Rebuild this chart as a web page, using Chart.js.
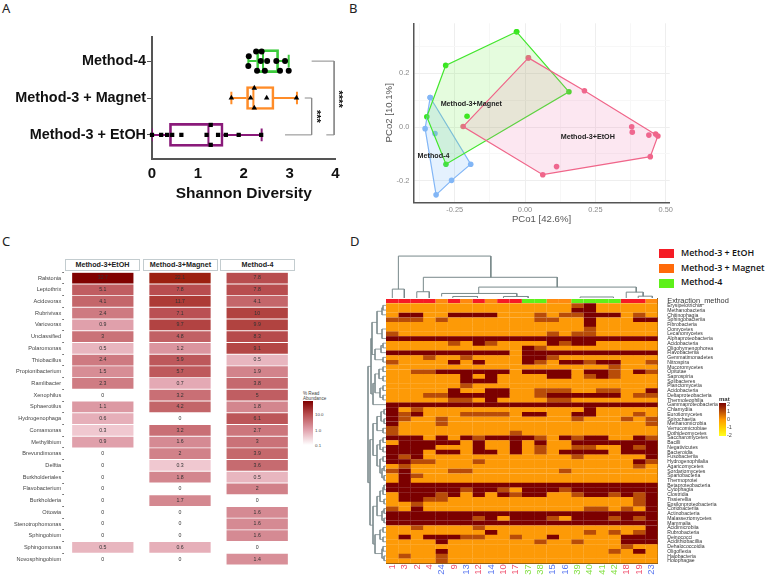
<!DOCTYPE html>
<html>
<head>
<meta charset="utf-8">
<title>Extraction method comparison</title>
<script src="https://cdn.jsdelivr.net/npm/chart.js@4/dist/chart.umd.js"></script>
<style>
  body { margin: 0; background: #fff; width: 768px; height: 577px; position: relative; overflow: hidden; font-family: "Liberation Sans", sans-serif; }
  canvas { position: absolute; }
  .panel { position: absolute; font: 13px "Noto Sans", sans-serif; color: #222; }
  .strip { position: absolute; top: 259px; height: 10px; border: 1px solid #c3cccf; text-align: center; font: bold 7.2px/10px "Liberation Sans", sans-serif; color: #222; box-sizing: content-box; }
  .key { position: absolute; left: 659px; width: 15px; height: 9px; }
  .keytext { position: absolute; left: 681px; font: 600 8.9px/12px "Open Sans", sans-serif; color: #111; white-space: nowrap; }
  .small { position: absolute; color: #444; white-space: nowrap; }
</style>
</head>
<body>
<div class="panel" style="left:2px;top:-1px">A</div>
<div class="panel" style="left:349px;top:-1px">B</div>
<div class="panel" style="left:2px;top:232px">C</div>
<div class="panel" style="left:350px;top:232px">D</div>

<canvas id="boxes" width="346" height="173" style="left:0;top:30px"></canvas>
<canvas id="pcoa" width="296" height="210" style="left:384px;top:15px"></canvas>

<div class="strip" style="left:65px;width:73px">Method-3+EtOH</div>
<div class="strip" style="left:143px;width:73px">Method-3+Magnet</div>
<div class="strip" style="left:220px;width:73px">Method-4</div>
<canvas id="abundance" width="300" height="293" style="left:0;top:272px"></canvas>
<div class="small" style="left:303px;top:391px;font-size:4.6px;line-height:5px">% Read<br>Abundance</div>
<div style="position:absolute;left:303px;top:401px;width:10px;height:44px;background:linear-gradient(#7f0000,#b84d4f 30%,#e0a0ab 65%,#fff)"></div>
<div class="small" style="left:315px;top:412px;font-size:4.4px">10.0</div>
<div class="small" style="left:315px;top:428px;font-size:4.4px">1.0</div>
<div class="small" style="left:315px;top:443px;font-size:4.4px">0.1</div>

<canvas id="treeTop" width="272" height="48" style="left:386px;top:250px"></canvas>
<canvas id="treeLeft" width="20" height="260" style="left:366px;top:303px"></canvas>
<canvas id="heat" width="349" height="282" style="left:386px;top:295px"></canvas>

<div class="key" style="top:249px;background:#f51b25"></div>
<div class="keytext" style="top:247px">Method-3 + EtOH</div>
<div class="key" style="top:264px;background:#ff6a0a"></div>
<div class="keytext" style="top:262px">Method-3 + Magnet</div>
<div class="key" style="top:279px;background:#5ef01a"></div>
<div class="keytext" style="top:276px">Method-4</div>

<div class="small" style="left:719px;top:396px;font-size:6px;font-weight:bold;color:#333">mat</div>
<div style="position:absolute;left:719px;top:403px;width:7px;height:33px;background:linear-gradient(#7b0000,#b84c08 25%,#ff9a00 50%,#ffd000 75%,#ffff20)"></div>
<div class="small" style="left:727px;top:401px;font-size:5.5px">2</div>
<div class="small" style="left:727px;top:408px;font-size:5.5px">1</div>
<div class="small" style="left:727px;top:416px;font-size:5.5px">0</div>
<div class="small" style="left:727px;top:424px;font-size:5.5px">-1</div>
<div class="small" style="left:727px;top:432px;font-size:5.5px">-2</div>

<script>
// panel A, shannon diversity
const boxCategories = ['Method-3 + EtOH', 'Method-3 + Magnet', 'Method-4'];
const boxQ1 = [0.38, 2.06, 2.28];
const boxQ3 = [1.55, 2.66, 2.76];
const boxMedian = [1.23, 2.21, 2.42];
const boxLow = [0, 1.73, 2.10];
const boxHigh = [2.39, 3.16, 2.98];
const etohX = [0, 0.2, 0.33, 0.44, 0.64, 1.19, 1.28, 1.28, 1.44, 1.61, 1.89, 2.38];
const etohSpread = [0, 0, 0, 0, 0, 0, 0.27, -0.27, 0, 0, 0, 0];
const magnetX = [1.73, 2.15, 2.23, 2.23, 2.50, 3.15];
const magnetSpread = [0, 0, 0.27, -0.27, 0, 0];
const method4X = [2.27, 2.39, 2.11, 2.37, 2.51, 2.71, 2.90, 2.10, 2.29, 2.46, 2.79, 2.98];
const method4Spread = [0.26, 0.26, 0.13, 0, 0, 0, 0, -0.13, -0.26, -0.26, -0.26, -0.26];

// panel B, pcoa
const hullMethod4 = [[-0.337, 0.110], [-0.193, -0.138], [-0.261, -0.198], [-0.316, -0.252], [-0.355, -0.006], [-0.337, 0.110]];
const hullMagnet = [[-0.030, 0.354], [0.156, 0.131], [-0.281, -0.138], [-0.349, 0.038], [-0.282, 0.229], [-0.030, 0.354]];
const hullEtoh = [[0.012, 0.257], [0.211, 0.135], [0.472, -0.033], [0.445, -0.110], [0.063, -0.177], [-0.220, 0.002], [0.012, 0.257]];
const innerMethod4 = [[-0.320, -0.024]];
const innerMagnet = [[-0.206, 0.040]];
const innerEtoh = [[0.379, 0.001], [0.381, -0.019], [0.440, -0.030], [0.464, -0.026], [0.112, -0.147]];
const pcoaLabels = ['Method-3+Magnet', 'Method-3+EtOH', 'Method-4'];
const pcoaLabelAt = [[-0.191, 0.086], [0.223, -0.036], [-0.325, -0.108]];
const pcoX = [-0.375, -0.25, -0.125, 0, 0.125, 0.25, 0.375, 0.5];
const pcoY = [-0.2, -0.1, 0, 0.1, 0.2, 0.3];

// panel C, read abundance
const genera = ['Ralstonia', 'Leptothrix', 'Acidovorax', 'Rubrivivax', 'Variovorax', 'Unclassified', 'Polaromonas', 'Thiobacillus', 'Propionibacterium', 'Ramlibacter', 'Xenophilus', 'Sphaerotilus', 'Hydrogenophaga', 'Comamonas', 'Methylibium', 'Brevundimonas', 'Delftia', 'Burkholderiales', 'Flavobacterium', 'Burkholderia', 'Ottowia', 'Stenotrophomonas', 'Sphingobium', 'Sphingomonas', 'Novosphingobium'];
const abundanceEtoh = [32.7, 5.1, 4.1, 2.4, 0.9, 3, 0.5, 2.4, 1.5, 2.3, 0, 1.1, 0.6, 0.3, 0.9, 0, 0, 0, 0, 0, 0, 0, 0, 0.5, 0];
const abundanceMagnet = [22.1, 7.8, 11.7, 7.1, 9.7, 4.8, 1.2, 5.9, 5.7, 0.7, 3.2, 4.2, 0, 3.2, 1.6, 2, 0.3, 1.8, 0, 1.7, 0, 0, 0, 0.6, 0];
const abundanceMethod4 = [7.8, 7.8, 4.1, 10, 9.9, 8.3, 9.1, 0.5, 1.9, 3.8, 5, 1.8, 6.1, 2.7, 3, 3.9, 3.6, 0.5, 2, 0, 1.6, 1.6, 1.6, 0, 1.4];

// panel D, class level heatmap
const sampleIds = ['1', '3', '2', '4', '24', '9', '13', '12', '14', '10', '17', '37', '38', '15', '16', '39', '40', '41', '42', '18', '19', '23'];
const sampleMethod = ['e', 'e', 'e', 'e', 'm', 'e', 'm', 'e', 'm', 'e', 'e', 'g', 'g', 'm', 'm', 'g', 'g', 'g', 'g', 'e', 'e', 'm'];
const sampleIdColor = ['r', 'r', 'r', 'r', 'b', 'r', 'b', 'r', 'b', 'r', 'r', 'g', 'g', 'b', 'b', 'g', 'g', 'g', 'g', 'r', 'r', 'b'];
const classes = ['Erysipelotrichia', 'Methanobacteria', 'Chitinophagia', 'Sphingobacteriia', 'Fibrobacteria', 'Oomycetes', 'Lecanomycetes', 'Alphaproteobacteria', 'Acidobacteria', 'Oligohymenophorea', 'Flavobacteriia', 'Gemmatimonadetes', 'Nitrospira', 'Mucoromycetes', 'Opitutae', 'Saprospiria', 'Solibacteres', 'Planctomycetia', 'Acidobacteria', 'Deltaproteobacteria', 'Thermoleophilia', 'Gammaproteobacteria', 'Chlamydiia', 'Eurotiomycetes', 'Spirochaetia', 'Methanomicrobia', 'Verrucomicrobiae', 'Dothideomycetes', 'Saccharomycetes', 'Bacilli', 'Negativicutes', 'Bacteroidia', 'Fusobacteriia', 'Hydrogenophilalia', 'Agaricomycetes', 'Sordariomycetes', 'Spartobacteria', 'Thermoprotei', 'Betaproteobacteria', 'Cytophagia', 'Clostridia', 'Tissierellia', 'Epsilonproteobacteria', 'Coriobacteriia', 'Actinobacteria', 'Malasseziomycetes', 'Mammalia', 'Acidimicrobiia', 'Rubrobacteria', 'Deinococci', 'Acidithiobacillia', 'Dehalococcoidia', 'Oligoflexia', 'Halobacteria', 'Holophagae'];
const matRows = [
  '00000 00000 00000 12000 00', '00000 00000 00000 22000 00', '02200 22220 00101 12220 10', '11101 00000 00110 02000 22',
  '00000 00000 00000 02000 00', '00000 00000 00000 01000 00', '10000 00000 00010 11000 00', '22222 22222 22222 22222 22',
  '00000 10210 00021 22000 00', '00000 00000 02100 00000 00', '22222 22222 02222 22222 22', '00010 01000 02210 00000 00',
  '10000 20200 02102 21220 01', '00000 00000 00000 00010 00', '00112 22222 02222 02210 21', '00000 02020 00022 01210 00',
  '00000 02220 00000 00000 00', '00000 01000 00000 00000 00', '00000 20022 00111 00110 02', '00011 22222 00122 22220 11',
  '00000 11020 00011 00000 00', '22222 22222 22222 22222 22', '20100 00000 00000 02000 00', '21200 01111 02200 22000 10',
  '21001 00000 00000 10001 01', '20001 00000 00000 00000 01', '10000 00000 00000 00000 00', '10000 00000 10000 00000 00',
  '22202 02122 22102 12200 21', '02222 20200 20200 22222 22', '22220 00200 20100 11002 12', '22202 20220 20102 22202 22',
  '21200 00000 00000 10000 02', '22110 00100 00000 00000 21', '01000 00000 00000 00000 10', '12000 11000 00001 00000 00',
  '02100 00000 00000 00000 00', '02000 00000 00000 00000 00', '22222 22222 22222 22222 22', '22222 21221 02221 22222 22',
  '02221 20202 12200 12212 12', '02211 00000 00000 00000 12', '00100 00000 00000 00000 12', '10200 00000 00000 01101 02',
  '22222 22222 22222 22222 22', '22222 22120 22210 22212 12', '22222 22222 22222 22222 22', '00100 00100 00000 00000 02',
  '00000 00020 00000 01010 12', '02022 21100 10020 00002 22', '00002 00000 00100 10002 22', '00000 00000 00000 00001 00',
  '00002 00000 00000 00010 20', '01001 00000 00000 00000 00', '00001 00000 00000 00000 00'
];
// [left col, right col, left height, height, right height]
const treeTopLinks = [
  [1.0, 8.48, 8.8, 41.5, 20.5], [3.02, 13.85, 6.2, 20.5, 10.8], [0.51, 1.48, 0, 8.8, 0], [2.49, 3.5, 0, 6.2, 0],
  [7.5, 20.24, 4.5, 10.8, 5.8], [4.5, 10.58, 1.5, 4.5, 1.5], [19.43, 20.8, 0, 5.8, 1.8], [20.4, 21.54, 0, 1.8, 0],
  [5.4, 7.4, 0, 1.5, 0], [9.5, 11.5, 0, 1.5, 0], [15.7, 18.4, 0, 1, 0]
];
// [upper row, lower row, upper depth, depth, lower depth]
const treeLeftLinks = [
  [0.5, 1.5, 0, 3, 0], [1, 2.5, 3, 4, 0], [5.5, 7.5, 0, 4, 0], [1.75, 6.5, 4, 9, 4], [8.5, 9.5, 0, 3, 0], [9, 10.5, 3, 5, 0],
  [11.5, 12.5, 0, 3, 0], [9.75, 12, 5, 11, 3], [4.1, 10.9, 9, 14, 11], [13.5, 14.5, 0, 3, 0], [15.5, 16.5, 0, 3, 0], [14, 16, 3, 7, 3],
  [17.5, 18.5, 0, 3, 0], [19.5, 20.5, 0, 3, 0], [18, 20, 3, 6, 3], [15, 19, 7, 11, 6], [17, 21.5, 11, 13, 0], [7.5, 19.25, 14, 15, 13],
  [22.5, 23.5, 0, 2, 0], [24.5, 25.5, 0, 2, 0], [26.5, 27.5, 0, 3, 0], [23, 25, 2, 5, 2], [24, 27, 5, 9, 3], [28.5, 29.5, 0, 3, 0],
  [30.5, 31.5, 0, 3, 0], [29, 31, 3, 6, 3], [32.5, 33.5, 0, 3, 0], [34.5, 35.5, 0, 2, 0], [36.5, 37.5, 0, 2, 0], [35, 37, 2, 4, 2],
  [33, 36, 3, 6, 4], [30, 34.5, 6, 9, 6], [25.5, 32.25, 9, 13, 9], [38.5, 39.5, 0, 2, 0], [39, 40.5, 2, 3, 0], [41.5, 42.5, 0, 2, 0],
  [39.75, 42, 3, 6, 2], [43.5, 44.5, 0, 2, 0], [45.5, 46.5, 0, 2, 0], [44, 46, 2, 4, 2], [40.9, 45, 6, 9, 4], [47.5, 48.5, 0, 3, 0],
  [49.5, 50.5, 0, 3, 0], [48, 50, 3, 6, 3], [51.5, 52.5, 0, 3, 0], [53.5, 54.5, 0, 2, 0], [52, 54, 3, 4, 2], [49, 53, 6, 11, 4],
  [43, 51, 9, 13, 11], [28.9, 47, 13, 16, 13], [13.4, 38, 15, 18, 16]
];

Chart.defaults.animation = false;
Chart.defaults.responsive = false;
Chart.defaults.font.family = '"Liberation Sans", sans-serif';
Chart.defaults.plugins.legend.display = false;
Chart.defaults.plugins.tooltip.enabled = false;

// fix the axis box and drop the label overhang so the plot area lands where wanted
const fixSize = (size) => (scale) => {
  if (scale.isHorizontal()) scale.height = size; else scale.width = size;
  scale.paddingTop = scale.paddingBottom = scale.paddingLeft = scale.paddingRight = 0;
};
const line = (points, color, width) => ({
  type: 'scatter', indexAxis: 'x', showLine: true, tension: 0, pointRadius: 0,
  borderColor: color, borderWidth: width, data: points.map(p => ({ x: p[0], y: p[1] }))
});

// ---- A
const boxColors = ['#8a1a7a', '#ff8c28', '#3ccb3c'];
const capSize = 0.17, medianSize = 0.31;
const boxLines = [];
boxCategories.forEach((c, i) => {
  boxLines.push(line([[boxLow[i], i - capSize], [boxLow[i], i + capSize], [boxLow[i], i], [boxQ1[i], i]], boxColors[i], 2));
  boxLines.push(line([[boxQ3[i], i], [boxHigh[i], i], [boxHigh[i], i + capSize], [boxHigh[i], i - capSize]], boxColors[i], 2));
  boxLines.push(line([[boxMedian[i], i - medianSize], [boxMedian[i], i + medianSize]], boxColors[i], 2));
});
const dots = (xs, spread, row, style) => ({
  type: 'scatter', indexAxis: 'x', pointStyle: style, pointRadius: style === 'triangle' ? 3.2 : 3, clip: false,
  backgroundColor: '#000', borderColor: '#000', borderWidth: 0,
  data: xs.map((x, i) => ({ x: x, y: row + spread[i] }))
});
const starBrackets = {
  id: 'starBrackets',
  afterDatasetsDraw(chart) {
    const { ctx, scales } = chart;
    ctx.save();
    ctx.font = 'bold 11px "Liberation Sans"';
    ctx.fillStyle = '#111';
    ctx.textAlign = 'center';
    ctx.textBaseline = 'middle';
    [['****', 4.06, 0.97], ['***', 3.57, 0.5]].forEach(s => {
      ctx.save();
      ctx.translate(scales.x.getPixelForValue(s[1]), scales.y.getPixelForValue(s[2]));
      ctx.rotate(Math.PI / 2);
      ctx.fillText(s[0], 0, 0);
      ctx.restore();
    });
    ctx.restore();
  }
};
new Chart(document.getElementById('boxes'), {
  type: 'bar',
  data: {
    datasets: [
      dots(etohX, etohSpread, 0, 'rect'),
      dots(magnetX, magnetSpread, 1, 'triangle'),
      dots(method4X, method4Spread, 2, 'circle'),
      ...boxLines,
      line([[3.48, 2], [3.97, 2], [3.97, 0], [3.80, 0]], '#8a8a8a', 1),
      line([[3.33, 1], [3.48, 1], [3.48, 0], [2.90, 0]], '#8a8a8a', 1),
      {
        type: 'bar', barThickness: 23, grouped: false, borderSkipped: false, borderWidth: 2,
        borderColor: boxColors, backgroundColor: 'rgba(0,0,0,0)',
        data: boxQ1.map((q, i) => ({ y: i, x: [q, boxQ3[i]] }))
      }
    ]
  },
  options: {
    indexAxis: 'y',
    layout: { padding: { top: 7, right: 10.5 } },
    scales: {
      x: {
        type: 'linear', min: 0, max: 4,
        grid: { display: false, drawOnChartArea: false, tickLength: 5 },
        border: { color: '#555', width: 2 },
        ticks: { stepSize: 1, color: '#111', font: { size: 15, weight: 'bold' }, padding: 1, maxRotation: 0 },
        title: { display: true, text: 'Shannon Diversity', color: '#111', font: { size: 15.5, weight: 'bold' }, padding: 0 },
        afterFit: fixSize(44)
      },
      y: {
        type: 'linear', min: -0.654, max: 2.654, offset: false,
        grid: { offset: false, drawOnChartArea: false, tickLength: 5, tickColor: '#555' },
        border: { color: '#555', width: 2 },
        afterBuildTicks: (s) => { s.ticks = boxCategories.map((c, i) => ({ value: i })); },
        ticks: { color: '#111', font: { size: 14.4, weight: 'bold' }, padding: 1, callback: (v) => boxCategories[v] },
        afterFit: fixSize(152)
      }
    }
  },
  plugins: [starBrackets]
});

// ---- B
const hull = (points, stroke, fill) => ({
  type: 'scatter', showLine: true, tension: 0, fill: 'shape', pointRadius: 0,
  borderColor: stroke, borderWidth: 1.2, backgroundColor: fill, data: points.map(p => ({ x: p[0], y: p[1] }))
});
const pcoaPoints = (points, color) => ({
  type: 'scatter', pointRadius: 2.8, backgroundColor: color, borderWidth: 0, data: points.map(p => ({ x: p[0], y: p[1] }))
});
const groupLabels = {
  id: 'groupLabels',
  afterDatasetsDraw(chart) {
    const { ctx, scales } = chart;
    ctx.save();
    ctx.font = 'bold 7.2px "Liberation Sans"';
    ctx.fillStyle = '#222';
    ctx.textAlign = 'center';
    ctx.textBaseline = 'middle';
    pcoaLabels.forEach((t, i) => ctx.fillText(t, scales.x.getPixelForValue(pcoaLabelAt[i][0]), scales.y.getPixelForValue(pcoaLabelAt[i][1])));
    ctx.restore();
  }
};
const isMajor = (v) => Math.abs(v * 4 - Math.round(v * 4)) < 1e-6;
const isMajorY = (v) => Math.abs(v * 5 - Math.round(v * 5)) < 1e-6;
new Chart(document.getElementById('pcoa'), {
  type: 'scatter',
  data: {
    datasets: [
      hull(hullEtoh, '#f0668a', 'rgba(240,110,170,0.17)'),
      hull(hullMagnet, '#43e62e', 'rgba(100,235,60,0.17)'),
      hull(hullMethod4, '#82b6f6', 'rgba(130,190,250,0.22)'),
      pcoaPoints(hullEtoh.concat(innerEtoh), '#f0668a'),
      pcoaPoints(hullMagnet.concat(innerMagnet), '#37e61e'),
      pcoaPoints(hullMethod4.concat(innerMethod4), '#82b6f6')
    ]
  },
  options: {
    layout: { padding: { top: 8.3, right: 10.3 } },
    scales: {
      x: {
        min: -0.397, max: 0.514,
        grid: { color: (c) => isMajor(c.tick.value) ? '#eeeeee' : '#f7f7f7', tickLength: 3, tickColor: 'rgba(0,0,0,0)' },
        border: { color: '#555', width: 1.5 },
        afterBuildTicks: (s) => { s.ticks = pcoX.map(v => ({ value: v })); },
        ticks: { color: '#8a8a8a', font: { size: 7.4 }, padding: 0, maxRotation: 0, autoSkip: false, callback: (v) => isMajor(v) ? v.toFixed(2) : '' },
        title: { display: true, text: 'PCo1 [42.6%]', color: '#555', font: { size: 9.6 }, padding: 0 },
        afterFit: fixSize(22.7)
      },
      y: {
        min: -0.2796, max: 0.3855,
        grid: { color: (c) => isMajorY(c.tick.value) ? '#eeeeee' : '#f7f7f7', tickLength: 3, tickColor: 'rgba(0,0,0,0)' },
        border: { color: '#555', width: 1.5 },
        afterBuildTicks: (s) => { s.ticks = pcoY.map(v => ({ value: v })); },
        ticks: { color: '#8a8a8a', font: { size: 7.4 }, padding: 1, autoSkip: false, callback: (v) => isMajorY(v) ? v.toFixed(1) : '' },
        title: { display: true, text: 'PCo2 [10.1%]', color: '#555', font: { size: 9.6 }, padding: 0 },
        afterFit: fixSize(29.3)
      }
    }
  },
  plugins: [groupLabels]
});

// ---- C
const abundanceStops = [[0, [255, 240, 244]], [0.38, [224, 160, 171]], [0.75, [184, 77, 79]], [0.93, [156, 32, 16]], [1, [127, 0, 0]]];
function abundanceColor(v) {
  if (!v) return '#ffffff';
  const t = Math.min(1, (Math.log10(v) + 1) / 2.52);
  for (let i = 1; i < abundanceStops.length; i++) {
    const [t1, c1] = abundanceStops[i], [t0, c0] = abundanceStops[i - 1];
    if (t <= t1) {
      const f = (t - t0) / (t1 - t0);
      return `rgb(${c0.map((c, k) => Math.round(c + (c1[k] - c) * f)).join(',')})`;
    }
  }
  return '#7f0000';
}
const abundanceColumns = [abundanceEtoh, abundanceMagnet, abundanceMethod4];
const cellLabels = {
  id: 'cellLabels',
  afterDatasetsDraw(chart) {
    const { ctx, scales } = chart;
    ctx.save();
    ctx.font = '5.2px "Liberation Sans"';
    ctx.fillStyle = '#333';
    ctx.textAlign = 'center';
    ctx.textBaseline = 'middle';
    abundanceColumns.forEach((col, c) => col.forEach((v, r) => {
      ctx.fillText(String(v), scales.x.getPixelForValue(c + 0.5), scales.y.getPixelForValue(r));
    }));
    ctx.restore();
  }
};
new Chart(document.getElementById('abundance'), {
  type: 'bar',
  data: {
    labels: genera,
    datasets: abundanceColumns.map((col, c) => ({
      grouped: false, barPercentage: 0.92, categoryPercentage: 1, inflateAmount: 0, borderWidth: 0,
      backgroundColor: col.map(abundanceColor),
      data: col.map(() => [c + 0.103, c + 0.897])
    }))
  },
  options: {
    indexAxis: 'y',
    layout: { padding: { top: 0.2, right: 4.2 } },
    scales: {
      x: { type: 'linear', min: 0, max: 3, display: false },
      y: {
        grid: { drawOnChartArea: false, tickLength: 2, tickColor: '#777' },
        border: { display: false },
        ticks: { color: '#444', font: { size: 5.6 }, padding: 1, autoSkip: false },
        afterFit: fixSize(64.2)
      }
    }
  },
  plugins: [cellLabels]
});

// ---- D
const matColors = ['#fd9a07', '#b84c08', '#7b0000'];
const methodColors = { e: '#f51b25', m: '#ff8a10', g: '#5ef01a' };
const idColors = { r: '#f0506e', b: '#5a78f0', g: '#84e044' };
const matrix = matRows.map(r => r.replace(/ /g, '').split('').map(Number));
const columnBars = sampleIds.map((id, c) => ({
  grouped: false, barPercentage: 1, categoryPercentage: 1, inflateAmount: 0.1, borderWidth: 0,
  backgroundColor: [null].concat(matrix.map(r => matColors[r[c]])),
  data: [null].concat(classes.map(() => [c, c + 1]))
}));
const methodBars = sampleIds.map((id, c) => ({
  grouped: false, barPercentage: 0.85, categoryPercentage: 1, inflateAmount: 0, borderWidth: 0,
  backgroundColor: methodColors[sampleMethod[c]],
  data: [[c, c + 1]]
}));
new Chart(document.getElementById('heat'), {
  type: 'bar',
  data: { labels: ['Extraction_method'].concat(classes), datasets: columnBars.concat(methodBars) },
  options: {
    indexAxis: 'y',
    layout: { padding: { top: 3.57 } },
    scales: {
      x: {
        type: 'linear', min: 0, max: sampleIds.length,
        grid: { drawOnChartArea: false, tickLength: 1, tickColor: 'rgba(0,0,0,0)' },
        border: { color: '#8b5a14', width: 1 },
        afterBuildTicks: (s) => { s.ticks = sampleIds.map((id, i) => ({ value: i + 0.5 })); },
        ticks: {
          autoSkip: false, minRotation: 90, maxRotation: 90, padding: 0, font: { size: 9.5 },
          color: (c) => idColors[sampleIdColor[c.index]],
          callback: (v, i) => sampleIds[i]
        },
        afterFit: fixSize(13.7)
      },
      y: {
        position: 'right',
        grid: { display: false },
        border: { color: '#8b5a14', width: 1 },
        ticks: {
          autoSkip: false, padding: 1.5, color: '#333',
          font: (c) => ({ size: c.index === 0 ? 7.4 : 5.1 })
        },
        afterFit: fixSize(77.3)
      }
    }
  }
});

const treeColor = '#78888a';
new Chart(document.getElementById('treeTop'), {
  type: 'scatter',
  data: { datasets: treeTopLinks.map(l => line([[l[0], l[2]], [l[0], l[3]], [l[1], l[3]], [l[1], l[4]]], treeColor, 1)) },
  options: {
    scales: {
      x: { type: 'linear', min: 0, max: 22, display: false },
      y: { type: 'linear', min: 0, max: 47.5, display: false }
    }
  }
});
new Chart(document.getElementById('treeLeft'), {
  type: 'scatter',
  data: { datasets: treeLeftLinks.map(l => line([[l[2], l[0]], [l[3], l[0]], [l[3], l[1]], [l[4], l[1]]], treeColor, 0.8)) },
  options: {
    scales: {
      x: { type: 'linear', min: 0, max: 20, reverse: true, display: false },
      y: { type: 'linear', min: 0, max: 55, reverse: true, display: false }
    }
  }
});
</script>
</body>
</html>
